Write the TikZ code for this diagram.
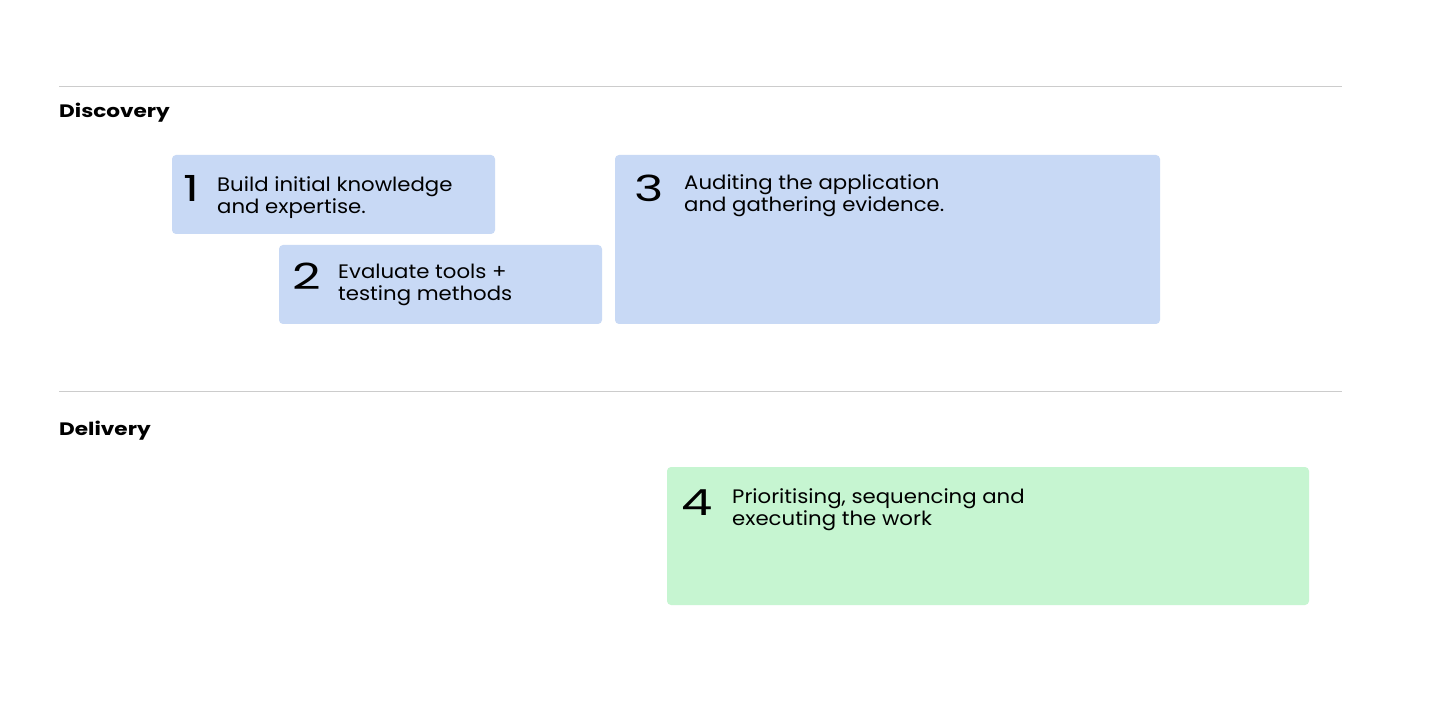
\documentclass[tikz,border=0pt]{standalone}
\usepackage{fontspec}
\setmainfont{Poppins}
\newfontfamily\numfont[FakeStretch=1.38]{Poppins}
\newfontfamily\descfont[FakeStretch=1.09]{Poppins}
\newfontfamily\headfont[FakeStretch=1.2]{Poppins}
\definecolor{boxblue}{HTML}{C8D9F5}
\definecolor{boxgreen}{HTML}{C6F5D1}
\definecolor{rulegray}{HTML}{CCCCCC}
\begin{document}
\begin{tikzpicture}[x=1pt,y=-1pt,
  card/.style={rounded corners=4pt},
  num/.style={anchor=base west,inner sep=0pt,font=\numfont\fontsize{36}{36}\selectfont},
  desc/.style={anchor=base west,inner sep=0pt,align=left,font=\descfont\fontsize{19.5}{22}\selectfont},
  head/.style={anchor=base west,inner sep=0pt,font=\headfont\bfseries\fontsize{18}{20}\selectfont},
  sep/.style={draw=rulegray,line width=1pt}]
\useasboundingbox (0,0) rectangle (1440,708);
\fill[white] (0,0) rectangle (1440,708);
% rules
\coordinate (r1a) at (59,87); \coordinate (r1b) at (1342,87);
\coordinate (r2a) at (59,391); \coordinate (r2b) at (1342,391);
\draw[sep] (r1a) -- (r1b);
\draw[sep] (r2a) -- (r2b);
\node[head] (hdisc) at (59,118) {Discovery};
\node[head] (hdel) at (59,435) {Delivery};
% boxes
\fill[boxblue,card] (172,155) rectangle (495,234);
\fill[boxblue,card] (279,245) rectangle (602,324);
\fill[boxblue,card] (615,155) rectangle (1160,324);
\fill[boxgreen,card] (667,467) rectangle (1309,605);
% numbers
\node[num] (n1) at (183,202) {1};
\node[num] (n2) at (292,290) {2};
\node[num] (n3) at (634,202) {3};
\node[num] (n4) at (681,515) {4};
% texts (anchor = baseline of last line)
\node[desc] (t1) at (217,214) {Build initial knowledge\\and expertise.};
\node[desc] (t2) at (338,301) {Evaluate tools +\\testing methods};
\node[desc] (t3) at (684,212) {Auditing the application\\and gathering evidence.};
\node[desc] (t4) at (732,525) {Prioritising, sequencing and\\executing the work};
\end{tikzpicture}
\end{document}
